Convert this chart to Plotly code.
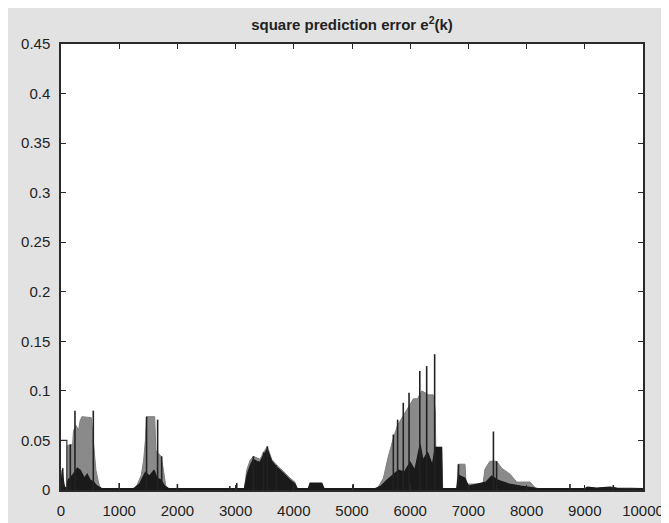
import plotly.graph_objects as go

# ---------------- data ----------------
# Grey envelope of the dense oscillation regions (upper shading)
grey_k = [0, 100, 110, 200, 215, 260, 300, 330, 360, 520, 540, 600, 650, 700,
          1250, 1300, 1380, 1420, 1450, 1470, 1610, 1630, 1700, 1720, 1760, 1800, 1850,
          3150, 3190, 3250, 3305, 3420, 3480, 3545, 3620, 3706, 3820, 3935, 4020, 4060,
          5400, 5450, 5540, 5620, 5700, 5780, 5880, 5980, 6055, 6125, 6200, 6315, 6395,
          6430, 6440, 6540, 6560,
          6800, 6826, 6942, 6960, 7250, 7285, 7370, 7485, 7572, 7715, 7830, 8060, 8150, 8200,
          10000]
grey_v = [0, 0, 0.045, 0.046, 0.060, 0.065, 0.060, 0.070, 0.074, 0.073, 0.060, 0.020, 0.006, 0,
          0, 0.004, 0.015, 0.030, 0.050, 0.074, 0.074, 0.040, 0.035, 0.034, 0.020, 0.004, 0,
          0, 0.020, 0.030, 0.034, 0.031, 0.038, 0.044, 0.031, 0.025, 0.019, 0.012, 0.008, 0,
          0, 0.003, 0.012, 0.033, 0.050, 0.065, 0.075, 0.085, 0.092, 0.092, 0.100, 0.096, 0.096,
          0.080, 0.043, 0.043, 0,
          0, 0.026, 0.026, 0.006, 0.006, 0.021, 0.029, 0.029, 0.022, 0.016, 0.008, 0.008, 0.002, 0,
          0]

# Dark dense base of the signal
base_k = [0, 20, 40, 60, 100, 120, 200, 280, 330, 400, 450, 500, 560, 620, 700,
          1000, 1250, 1350, 1400, 1450, 1520, 1600, 1650, 1720, 1780, 1850,
          3150, 3200, 3260, 3305, 3360, 3420, 3480, 3545, 3620, 3706, 3820, 3935, 4020, 4060,
          4250, 4280, 4480, 4520,
          5400, 5500, 5600, 5700, 5800, 5900, 6000, 6080, 6170, 6220, 6300, 6380, 6430, 6540, 6550,
          6800, 6830, 6940, 7000, 7300, 7400, 7500, 7600, 7700, 7900, 8100, 8200,
          9000, 9050, 9200, 9430, 9550, 9950, 10000]
base_v = [0.002, 0.020, 0.010, 0.003, 0.002, 0.010, 0.015, 0.022, 0.020, 0.012, 0.016, 0.010, 0.008, 0.004, 0.0015,
          0.0015, 0.0015, 0.006, 0.012, 0.018, 0.014, 0.020, 0.012, 0.010, 0.004, 0.0015,
          0.0015, 0.016, 0.026, 0.031, 0.029, 0.028, 0.035, 0.041, 0.029, 0.023, 0.017, 0.010, 0.006, 0.0015,
          0.0015, 0.007, 0.007, 0.0015,
          0.0015, 0.004, 0.010, 0.015, 0.020, 0.018, 0.028, 0.020, 0.046, 0.030, 0.038, 0.025, 0.043, 0.043, 0.0015,
          0.0015, 0.015, 0.012, 0.004, 0.008, 0.014, 0.010, 0.008, 0.006, 0.004, 0.002, 0.0015,
          0.0015, 0.003, 0.002, 0.003, 0.002, 0.002, 0.0015]

# Individual tall spikes
spike_k = [30, 160, 240, 555, 1000, 1470, 1660, 1730, 2000, 2900, 3020, 3305, 3480, 3545, 3700,
           5020, 5710, 5784, 5881, 5980, 6165, 6283, 6420, 6830, 7430, 7485, 8745, 9490]
spike_v = [0.022, 0.046, 0.080, 0.080, 0.007, 0.074, 0.071, 0.034, 0.006, 0.004, 0.007, 0.034, 0.038, 0.044, 0.025,
           0.006, 0.056, 0.071, 0.088, 0.098, 0.120, 0.125, 0.137, 0.026, 0.059, 0.029, 0.006, 0.005]

# Initial transient segment
init_k = [0, 100, 100]
init_v = [0.050, 0.050, 0.0]

x_ticks = [0, 1000, 2000, 3000, 4000, 5000, 6000, 7000, 8000, 9000, 10000]
y_ticks = [0, 0.05, 0.1, 0.15, 0.2, 0.25, 0.3, 0.35, 0.4, 0.45]
y_tick_text = ["0", "0.05", "0.1", "0.15", "0.2", "0.25", "0.3", "0.35", "0.4", "0.45"]

# ---------------- figure ----------------
fig = go.Figure()

fig.add_trace(go.Scatter(x=grey_k, y=grey_v, mode="lines", fill="tozeroy",
                         line=dict(color="#7e7e7e", width=1), fillcolor="#8a8a8a",
                         hoverinfo="skip", showlegend=False))
fig.add_trace(go.Scatter(x=base_k, y=base_v, mode="lines", fill="tozeroy",
                         line=dict(color="#1a1a1a", width=1.2), fillcolor="#1a1a1a",
                         hoverinfo="skip", showlegend=False))

stem_x, stem_y = [], []
for k, v in zip(spike_k, spike_v):
    stem_x += [k, k, None]
    stem_y += [0, v, None]
fig.add_trace(go.Scatter(x=stem_x, y=stem_y, mode="lines",
                         line=dict(color="#222222", width=1.6),
                         hoverinfo="skip", showlegend=False))
fig.add_trace(go.Scatter(x=init_k, y=init_v, mode="lines",
                         line=dict(color="#333333", width=1.2),
                         hoverinfo="skip", showlegend=False))

# The page body adds an 8px offset (white strip at top/left, as in the reference)
W, H = 669, 523
L, T = 53, 36
pw, ph = 582, 452
R, B = W - L - pw, H - T - ph

font_family = "Liberation Sans, Arial, sans-serif"
axis_common = dict(showline=True, linecolor="#2a2a2a", linewidth=1.5, mirror="ticks",
                   ticks="inside", ticklen=5, tickcolor="#2a2a2a", tickwidth=1,
                   showgrid=False, zeroline=False, ticklabelstandoff=6,
                   tickfont=dict(family=font_family, size=15, color="#222222"))

fig.update_layout(
    width=W, height=H,
    margin=dict(l=L, r=R, t=T, b=B, pad=0),
    paper_bgcolor="#e2e2e2",
    plot_bgcolor="white",
    xaxis=dict(range=[0, 10000], tickvals=x_ticks, ticktext=[str(t) for t in x_ticks],
               tickangle=0, **axis_common),
    yaxis=dict(range=[0, 0.45], tickvals=y_ticks, ticktext=y_tick_text, **axis_common),
    title=dict(text="<b>square prediction error e<sup>2</sup>(k)</b>",
               x=0.5, xref="paper", xanchor="center",
               y=1 - 17 / H, yanchor="middle",
               font=dict(family=font_family, size=15, color="#222222")),
)

fig.write_html("out.html", config={"displayModeBar": False})
